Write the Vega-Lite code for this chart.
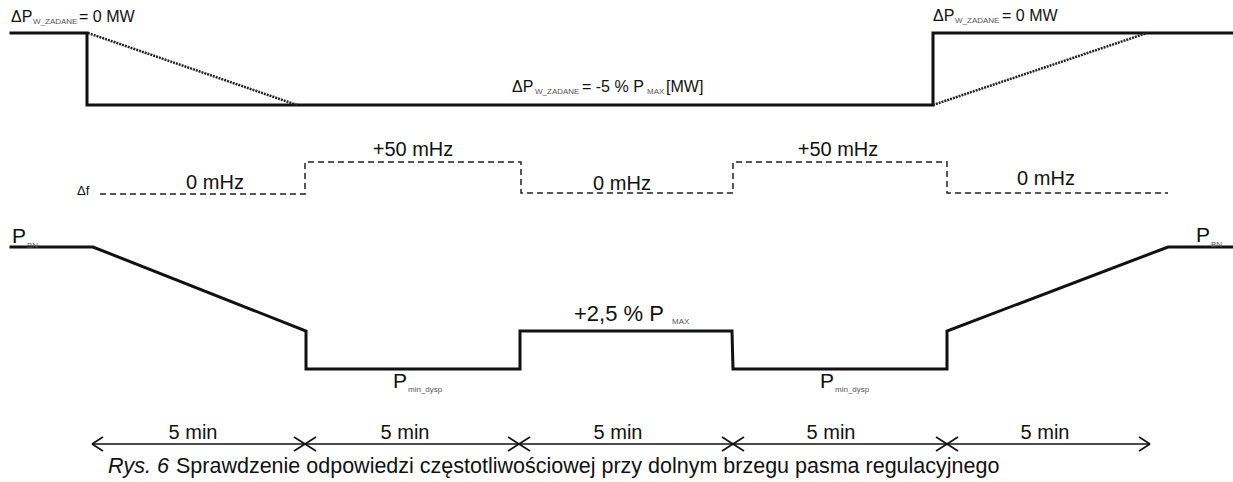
{
  "$schema": "https://vega.github.io/schema/vega-lite/v6.json",
  "width": 1233,
  "height": 482,
  "padding": 0,
  "autosize": {"type": "none"},
  "background": "white",
  "config": {"view": {"stroke": null}, "text": {"font": "Liberation Sans", "color": "#111111"}},
  "datasets": {
    "lines": [
      {"s": "top", "o": 0, "x": 11, "y": 33}, {"s": "top", "o": 1, "x": 87, "y": 33}, {"s": "top", "o": 2, "x": 87, "y": 105},
      {"s": "top", "o": 3, "x": 933, "y": 105}, {"s": "top", "o": 4, "x": 933, "y": 33}, {"s": "top", "o": 5, "x": 1232, "y": 33},
      {"s": "freq", "o": 0, "x": 100, "y": 194}, {"s": "freq", "o": 1, "x": 305, "y": 194}, {"s": "freq", "o": 2, "x": 305, "y": 162},
      {"s": "freq", "o": 3, "x": 521, "y": 162}, {"s": "freq", "o": 4, "x": 521, "y": 193}, {"s": "freq", "o": 5, "x": 733, "y": 193},
      {"s": "freq", "o": 6, "x": 733, "y": 162}, {"s": "freq", "o": 7, "x": 947, "y": 162}, {"s": "freq", "o": 8, "x": 947, "y": 193},
      {"s": "freq", "o": 9, "x": 1168, "y": 193},
      {"s": "power", "o": 0, "x": 11, "y": 247}, {"s": "power", "o": 1, "x": 93, "y": 247}, {"s": "power", "o": 2, "x": 306, "y": 331},
      {"s": "power", "o": 3, "x": 306, "y": 369}, {"s": "power", "o": 4, "x": 520, "y": 369}, {"s": "power", "o": 5, "x": 520, "y": 331},
      {"s": "power", "o": 6, "x": 732, "y": 331}, {"s": "power", "o": 7, "x": 733, "y": 369}, {"s": "power", "o": 8, "x": 947, "y": 369},
      {"s": "power", "o": 9, "x": 947, "y": 331}, {"s": "power", "o": 10, "x": 1168, "y": 247}, {"s": "power", "o": 11, "x": 1232, "y": 247}
    ],
    "segs": [
      {"k": "dot", "x": 88, "y": 33, "x2": 297, "y2": 105},
      {"k": "dot", "x": 933, "y": 105, "x2": 1147, "y2": 33},
      {"k": "arrow", "x": 92, "y": 444, "x2": 1150, "y2": 444},
      {"k": "arrow", "x": 92, "y": 444, "x2": 103, "y2": 437},
      {"k": "arrow", "x": 92, "y": 444, "x2": 103, "y2": 451},
      {"k": "arrow", "x": 294, "y": 437, "x2": 316, "y2": 451},
      {"k": "arrow", "x": 294, "y": 451, "x2": 316, "y2": 437},
      {"k": "arrow", "x": 508, "y": 437, "x2": 530, "y2": 451},
      {"k": "arrow", "x": 508, "y": 451, "x2": 530, "y2": 437},
      {"k": "arrow", "x": 722, "y": 437, "x2": 744, "y2": 451},
      {"k": "arrow", "x": 722, "y": 451, "x2": 744, "y2": 437},
      {"k": "arrow", "x": 936, "y": 437, "x2": 958, "y2": 451},
      {"k": "arrow", "x": 936, "y": 451, "x2": 958, "y2": 437},
      {"k": "arrow", "x": 1150, "y": 444, "x2": 1139, "y2": 437},
      {"k": "arrow", "x": 1150, "y": 444, "x2": 1139, "y2": 451}
    ],
    "labels": [
      {"r": "lbl", "x": 11, "y": 22, "t": "ΔP"}, {"r": "lbl", "x": 79, "y": 22, "t": "= 0 MW"},
      {"r": "lbl", "x": 933, "y": 21, "t": "ΔP"}, {"r": "lbl", "x": 1002, "y": 21, "t": "= 0 MW"},
      {"r": "lbl", "x": 512, "y": 92, "t": "ΔP"}, {"r": "lbl", "x": 582, "y": 92, "t": "= -5 % P"}, {"r": "lbl", "x": 666, "y": 92, "t": "[MW]"},
      {"r": "sub", "x": 33, "y": 24, "t": "W_ZADANE"}, {"r": "sub", "x": 955, "y": 23, "t": "W_ZADANE"},
      {"r": "sub", "x": 535, "y": 94, "t": "W_ZADANE"}, {"r": "sub", "x": 647, "y": 94, "t": "MAX"},
      {"r": "sub", "x": 672, "y": 324, "t": "MAX"}, {"r": "sub", "x": 408, "y": 392, "t": "min_dysp"}, {"r": "sub", "x": 835, "y": 392, "t": "min_dysp"},
      {"r": "sub", "x": 27, "y": 248, "t": "BN"}, {"r": "sub", "x": 1211, "y": 247, "t": "BN"},
      {"r": "df", "x": 77, "y": 195, "t": "Δf"},
      {"r": "p", "x": 12, "y": 243, "t": "P"}, {"r": "p", "x": 1196, "y": 242, "t": "P"},
      {"r": "p", "x": 393, "y": 388, "t": "P"}, {"r": "p", "x": 820, "y": 388, "t": "P"},
      {"r": "pbig", "x": 574, "y": 321, "t": "+2,5 % P"},
      {"r": "mhz", "x": 215, "y": 189, "t": "0 mHz"}, {"r": "mhz", "x": 413, "y": 156, "t": "+50 mHz"},
      {"r": "mhz", "x": 622, "y": 190, "t": "0 mHz"}, {"r": "mhz", "x": 838, "y": 156, "t": "+50  mHz"},
      {"r": "mhz", "x": 1046, "y": 185, "t": "0 mHz"},
      {"r": "min", "x": 193, "y": 439, "t": "5 min"}, {"r": "min", "x": 405, "y": 439, "t": "5 min"},
      {"r": "min", "x": 618, "y": 439, "t": "5 min"}, {"r": "min", "x": 831, "y": 439, "t": "5 min"},
      {"r": "min", "x": 1045, "y": 439, "t": "5 min"},
      {"r": "capi", "x": 108, "y": 473, "t": "Rys. 6"},
      {"r": "cap", "x": 176, "y": 473, "t": "Sprawdzenie odpowiedzi częstotliwościowej przy dolnym brzegu pasma regulacyjnego"}
    ]
  },
  "encoding": {
    "x": {"field": "x", "type": "quantitative", "scale": {"domain": [0, 1233], "nice": false, "zero": false}, "axis": null},
    "y": {"field": "y", "type": "quantitative", "scale": {"domain": [0, 482], "nice": false, "zero": false, "reverse": true}, "axis": null}
  },
  "layer": [
    {
      "data": {"name": "lines"},
      "transform": [{"filter": "datum.s !== 'freq'"}],
      "mark": {"type": "line", "color": "#111111", "strokeWidth": 3, "strokeJoin": "miter", "strokeCap": "square"},
      "encoding": {"detail": {"field": "s"}, "order": {"field": "o", "type": "quantitative"}}
    },
    {
      "data": {"name": "lines"},
      "transform": [{"filter": "datum.s === 'freq'"}],
      "mark": {"type": "line", "color": "#222222", "strokeWidth": 1.5, "strokeDash": [6, 4]},
      "encoding": {"detail": {"field": "s"}, "order": {"field": "o", "type": "quantitative"}}
    },
    {
      "data": {"name": "segs"},
      "transform": [{"filter": "datum.k === 'dot'"}],
      "mark": {"type": "rule", "color": "#222222", "strokeWidth": 2.5, "strokeDash": [2, 1]},
      "encoding": {"x2": {"field": "x2"}, "y2": {"field": "y2"}}
    },
    {
      "data": {"name": "segs"},
      "transform": [{"filter": "datum.k === 'arrow'"}],
      "mark": {"type": "rule", "color": "#111111", "strokeWidth": 1.6},
      "encoding": {"x2": {"field": "x2"}, "y2": {"field": "y2"}}
    },
    {
      "data": {"name": "labels"},
      "transform": [{"filter": "datum.r === 'lbl'"}],
      "mark": {"type": "text", "align": "left", "baseline": "alphabetic", "fontSize": 16},
      "encoding": {"text": {"field": "t"}}
    },
    {
      "data": {"name": "labels"},
      "transform": [{"filter": "datum.r === 'sub'"}],
      "mark": {"type": "text", "align": "left", "baseline": "alphabetic", "fontSize": 8, "color": "#555555"},
      "encoding": {"text": {"field": "t"}}
    },
    {
      "data": {"name": "labels"},
      "transform": [{"filter": "datum.r === 'df'"}],
      "mark": {"type": "text", "align": "left", "baseline": "alphabetic", "fontSize": 13},
      "encoding": {"text": {"field": "t"}}
    },
    {
      "data": {"name": "labels"},
      "transform": [{"filter": "datum.r === 'p'"}],
      "mark": {"type": "text", "align": "left", "baseline": "alphabetic", "fontSize": 21},
      "encoding": {"text": {"field": "t"}}
    },
    {
      "data": {"name": "labels"},
      "transform": [{"filter": "datum.r === 'pbig'"}],
      "mark": {"type": "text", "align": "left", "baseline": "alphabetic", "fontSize": 22},
      "encoding": {"text": {"field": "t"}}
    },
    {
      "data": {"name": "labels"},
      "transform": [{"filter": "datum.r === 'mhz'"}],
      "mark": {"type": "text", "align": "center", "baseline": "alphabetic", "fontSize": 20},
      "encoding": {"text": {"field": "t"}}
    },
    {
      "data": {"name": "labels"},
      "transform": [{"filter": "datum.r === 'min'"}],
      "mark": {"type": "text", "align": "center", "baseline": "alphabetic", "fontSize": 20},
      "encoding": {"text": {"field": "t"}}
    },
    {
      "data": {"name": "labels"},
      "transform": [{"filter": "datum.r === 'capi'"}],
      "mark": {"type": "text", "align": "left", "baseline": "alphabetic", "fontSize": 21.5, "fontStyle": "italic"},
      "encoding": {"text": {"field": "t"}}
    },
    {
      "data": {"name": "labels"},
      "transform": [{"filter": "datum.r === 'cap'"}],
      "mark": {"type": "text", "align": "left", "baseline": "alphabetic", "fontSize": 21.5},
      "encoding": {"text": {"field": "t"}}
    }
  ]
}
